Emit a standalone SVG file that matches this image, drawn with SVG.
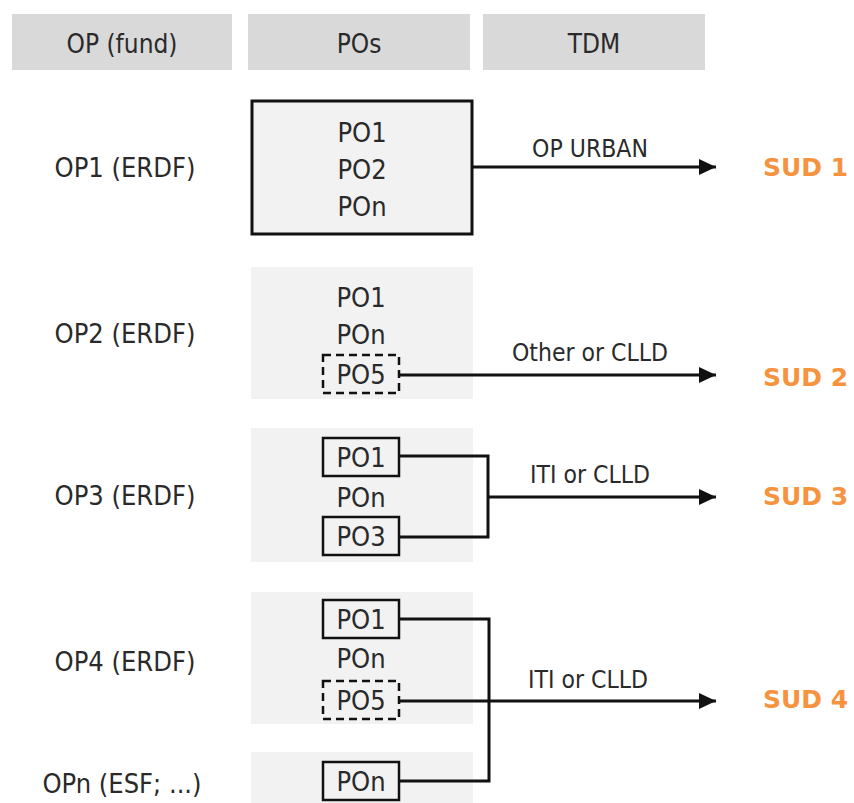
<svg xmlns="http://www.w3.org/2000/svg" width="854" height="803" viewBox="0 0 854 803">
<style>
text{font-family:"DejaVu Sans Condensed","DejaVu Sans",sans-serif;font-stretch:condensed;fill:#2a2a2a;text-anchor:middle}
.hdr{fill:#d9d9d9}
.h{font-size:26px}
.op{font-size:27px}
.po{font-size:27px}
.lbl{font-size:24.5px}
.sud{font-family:"DejaVu Sans",sans-serif;font-stretch:normal;font-weight:bold;font-size:25px;fill:#f6933f;text-anchor:start}
.bg{fill:#f2f2f2}
.box{fill:none;stroke:#111;stroke-width:2.5}
.dash{fill:none;stroke:#111;stroke-width:2.5;stroke-dasharray:8 5}
.c{fill:none;stroke:#111;stroke-width:3}
</style>
<defs>
<marker id="arr" markerUnits="userSpaceOnUse" markerWidth="18" markerHeight="16" refX="17" refY="8" orient="auto">
<path d="M0,0 L17,8 L0,16 Z" fill="#111"/>
</marker>
</defs>
<g id="headers">
<rect class="hdr" x="12" y="14" width="220" height="56"/>
<text class="h" x="122" y="53">OP (fund)</text>
<rect class="hdr" x="248" y="14" width="222" height="56"/>
<text class="h" x="359" y="53">POs</text>
<rect class="hdr" x="483" y="14" width="222" height="56"/>
<text class="h" x="594" y="53">TDM</text>
</g>
<g id="op-labels">
<text class="op" x="125" y="177">OP1 (ERDF)</text>
<text class="op" x="125" y="343">OP2 (ERDF)</text>
<text class="op" x="125" y="505">OP3 (ERDF)</text>
<text class="op" x="125" y="671">OP4 (ERDF)</text>
<text class="op" x="122" y="793">OPn (ESF; ...)</text>
</g>
<g id="op1">
<rect x="252" y="101" width="220" height="133" fill="#f2f2f2" stroke="#111" stroke-width="3"/>
<text class="po" x="362" y="142">PO1</text>
<text class="po" x="362" y="179">PO2</text>
<text class="po" x="362" y="216">POn</text>
</g>
<g id="op2">
<rect class="bg" x="251" y="267" width="222" height="132"/>
<text class="po" x="361" y="307">PO1</text>
<text class="po" x="361" y="344">POn</text>
<rect class="dash" x="323" y="355" width="76" height="38"/>
<text class="po" x="361" y="384">PO5</text>
</g>
<g id="op3">
<rect class="bg" x="251" y="428" width="222" height="134"/>
<rect class="box" x="323" y="438" width="76" height="38"/>
<text class="po" x="361" y="467">PO1</text>
<text class="po" x="361" y="507">POn</text>
<rect class="box" x="323" y="517" width="76" height="38"/>
<text class="po" x="361" y="546">PO3</text>
</g>
<g id="op4">
<rect class="bg" x="251" y="592" width="222" height="132"/>
<rect class="box" x="323" y="600" width="76" height="38"/>
<text class="po" x="361" y="629">PO1</text>
<text class="po" x="361" y="668">POn</text>
<rect class="dash" x="323" y="681" width="76" height="38"/>
<text class="po" x="361" y="710">PO5</text>
</g>
<g id="opn">
<rect class="bg" x="251" y="752" width="222" height="51"/>
<rect class="box" x="323" y="762" width="76" height="38"/>
<text class="po" x="361" y="791">POn</text>
</g>
<g id="connectors">
<path class="c" d="M473,167 H716" marker-end="url(#arr)"/>
<path class="c" d="M399,375 H716" marker-end="url(#arr)"/>
<path class="c" d="M399,456 H488 V537 H399"/>
<path class="c" d="M488,497 H716" marker-end="url(#arr)"/>
<path class="c" d="M399,619 H489 V781 H399"/>
<path class="c" d="M399,701 H716" marker-end="url(#arr)"/>
<text class="lbl" x="590" y="157">OP URBAN</text>
<text class="lbl" x="590" y="361">Other or CLLD</text>
<text class="lbl" x="590" y="483">ITI or CLLD</text>
<text class="lbl" x="588" y="688">ITI or CLLD</text>
</g>
<g id="sud1"><text class="sud" x="763" y="176">SUD 1</text></g>
<g id="sud2"><text class="sud" x="763" y="386">SUD 2</text></g>
<g id="sud3"><text class="sud" x="763" y="505">SUD 3</text></g>
<g id="sud4"><text class="sud" x="763" y="708">SUD 4</text></g>
</svg>
